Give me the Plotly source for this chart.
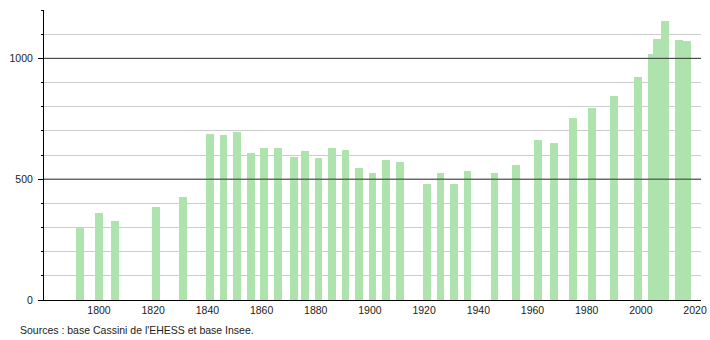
import plotly.graph_objects as go

years = [1793, 1800, 1806, 1821, 1831, 1841, 1846, 1851, 1856, 1861, 1866, 1872,
         1876, 1881, 1886, 1891, 1896, 1901, 1906, 1911, 1921, 1926, 1931, 1936,
         1946, 1954, 1962, 1968, 1975, 1982, 1990, 1999, 2004, 2006, 2009, 2014, 2017]
population = [297, 362, 328, 383, 425, 686, 682, 696, 607, 628, 628, 592,
              617, 589, 628, 620, 546, 524, 578, 570, 482, 524, 478, 533,
              524, 557, 661, 651, 755, 795, 844, 923, 1018, 1081, 1156, 1077, 1071]
x_ticks = [1800, 1820, 1840, 1860, 1880, 1900, 1920, 1940, 1960, 1980, 2000, 2020]
y_ticks = [0, 500, 1000]
source_text = "Sources : base Cassini de l'EHESS et base Insee."

font = "Liberation Sans, Arial, sans-serif"

fig = go.Figure()
fig.add_trace(go.Bar(
    x=years, y=population, width=2.8,
    marker=dict(color="#aee3ae", line=dict(width=0)),
    hoverinfo="x+y",
))

for v in y_ticks[1:]:
    fig.add_shape(type="line", xref="paper", yref="y", x0=0, x1=1, y0=v, y1=v,
                  line=dict(color="#333333", width=1), layer="above")

fig.update_layout(
    width=710, height=340,
    margin=dict(l=44, r=9, t=10, b=40, autoexpand=False),
    paper_bgcolor="white", plot_bgcolor="white",
    showlegend=False,
    font=dict(family=font, size=10.5, color="#222222"),
    bargap=0,
    xaxis=dict(
        range=[1779.7, 2022.2], automargin=False,
        tickmode="array", tickvals=x_ticks, ticktext=[str(t) for t in x_ticks],
        showgrid=False, zeroline=False,
        showline=True, linecolor="black", linewidth=1,
        ticks="", tickfont=dict(size=10.5, color="#222222"),
    ),
    yaxis=dict(
        range=[0, 1200], automargin=False,
        tickmode="array", tickvals=y_ticks, ticktext=[str(t) for t in y_ticks],
        showgrid=False, zeroline=False,
        showline=True, linecolor="black", linewidth=1,
        ticks="outside", ticklen=5, tickcolor="black", tickwidth=1,
        ticklabelstandoff=3,
        tickfont=dict(size=10.5, color="#222222"),
        minor=dict(dtick=100, tick0=0, showgrid=True, gridcolor="#cccccc",
                   gridwidth=1, ticks="outside", ticklen=2, tickcolor="black"),
    ),
    annotations=[dict(
        text=source_text, xref="paper", yref="paper",
        x=-0.039, y=-0.075, xanchor="left", yanchor="top",
        showarrow=False, font=dict(family=font, size=10.5, color="#222222"),
    )],
)

fig.write_html("out.html")
